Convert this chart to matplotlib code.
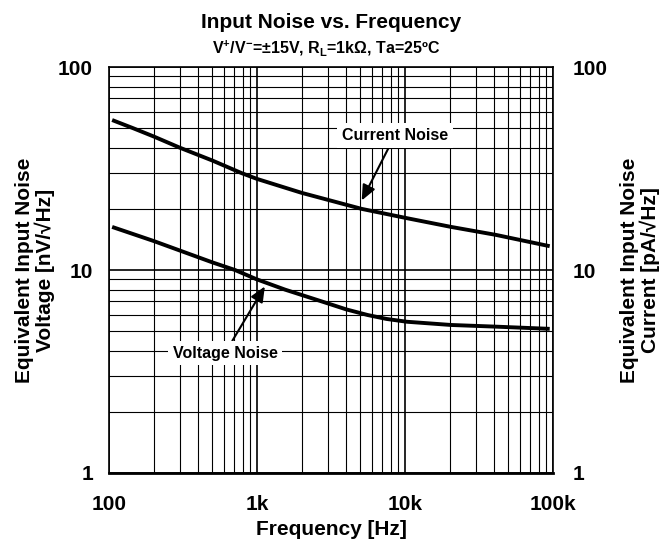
import matplotlib
matplotlib.use('Agg')
import matplotlib.pyplot as plt
from matplotlib.ticker import LogLocator, NullFormatter, FixedLocator

plt.rcParams['font.family'] = ['Liberation Sans', 'DejaVu Sans']
plt.rcParams['font.weight'] = 'bold'
plt.rcParams['mathtext.fontset'] = 'custom'
plt.rcParams['mathtext.rm'] = 'Liberation Sans:bold'
plt.rcParams['mathtext.it'] = 'Liberation Sans:bold'
plt.rcParams['mathtext.bf'] = 'Liberation Sans:bold'
plt.rcParams['mathtext.default'] = 'rm'

# values
current_freq = [105, 145, 200, 302, 500, 788, 1000, 2000, 5100, 10300, 20500, 41000, 95000]
current_noise = [54.8, 50.0, 45.5, 40.0, 34.6, 30.0, 28.1, 24.0, 20.0, 18.0, 16.3, 14.9, 13.1]
voltage_freq = [105, 200, 500, 710, 995, 1550, 2740, 4000, 5600, 7500, 10300, 20500, 41000, 95000]
voltage_noise = [16.3, 13.9, 10.9, 10.0, 9.0, 8.0, 7.0, 6.4, 6.0, 5.74, 5.56, 5.36, 5.26, 5.13]

x_ticks = [100, 1000, 10000, 100000]
x_labels = ['100', '1k', '10k', '100k']
y_ticks = [1, 10, 100]
y_labels = ['1', '10', '100']

fig = plt.figure(figsize=(6.59, 5.45), dpi=100)
fig.subplots_adjust(left=109/659, right=553/659, top=1-67/545, bottom=1-473/545)
ax = fig.add_subplot(111)

ax.plot(current_freq, current_noise, color='black', lw=2.8, solid_capstyle='butt', zorder=3)
ax.plot(voltage_freq, voltage_noise, color='black', lw=2.8, solid_capstyle='butt', zorder=3)

ax.set_xscale('log')
ax.set_yscale('log')
ax.set_xlim(100, 100000)
ax.set_ylim(1, 100)

ax.xaxis.set_major_locator(FixedLocator(x_ticks))
ax.set_xticklabels(x_labels)
ax.xaxis.set_minor_locator(LogLocator(base=10, subs=range(2, 10)))
ax.xaxis.set_minor_formatter(NullFormatter())
ax.yaxis.set_major_locator(FixedLocator(y_ticks))
ax.set_yticklabels(y_labels)
ax.yaxis.set_minor_locator(LogLocator(base=10, subs=range(2, 10)))
ax.yaxis.set_minor_formatter(NullFormatter())

ax.grid(True, which='major', color='black', lw=1.2)
ax.grid(True, which='minor', color='black', lw=0.8)
ax.set_axisbelow(True)
ax.tick_params(which='both', length=0)
ax.tick_params(axis='x', pad=16, labelsize=15)
ax.tick_params(axis='y', pad=11.5, labelsize=15)
for s in ax.spines.values():
    s.set_linewidth(1.2)
ax.spines['bottom'].set_linewidth(2)

ax.set_xlabel('Frequency [Hz]', fontsize=15, fontweight='bold')
ax.xaxis.set_label_coords(0.5, -0.115)
ax.set_ylabel('Equivalent Input Noise\nVoltage [nV/√Hz]', fontsize=15,
              fontweight='bold', linespacing=1.05)
ax.yaxis.set_label_coords(-0.122, 0.5)

ax2 = ax.twinx()
ax2.set_yscale('log')
ax2.set_ylim(1, 100)
ax2.yaxis.set_major_locator(FixedLocator(y_ticks))
ax2.set_yticklabels(y_labels)
ax2.yaxis.set_minor_formatter(NullFormatter())
ax2.tick_params(which='both', length=0)
ax2.tick_params(axis='y', pad=14, labelsize=15)
ax2.set_ylabel('Equivalent Input Noise\nCurrent [pA/√Hz]', fontsize=15,
               fontweight='bold', linespacing=1.05)
ax2.yaxis.set_label_coords(1.151, 0.5)
for s in ax2.spines.values():
    s.set_visible(False)

box = dict(boxstyle='square,pad=0.3', fc='white', ec='none')
arrow = dict(arrowstyle='-|>,head_length=0.8,head_width=0.35', color='black', lw=1.5,
             shrinkA=0, shrinkB=0)
ax.annotate('Current Noise', xy=(5100, 22.0), xytext=(8550, 46.0),
            fontsize=11.5, fontweight='bold', ha='center', va='center', bbox=box,
            arrowprops=arrow, zorder=4)
ax.annotate('Voltage Noise', xy=(1130, 8.3), xytext=(608, 3.9),
            fontsize=11.5, fontweight='bold', ha='center', va='center', bbox=box,
            arrowprops=arrow, zorder=4)

fig.text(331/659, 1-22/545, 'Input Noise vs. Frequency', ha='center', va='center',
         fontsize=15, fontweight='bold')
fig.text(326/659, 1-48/545, r'V$^{+}$/V$^{-}$=±15V, R$_{L}$=1kΩ, Ta=25ºC', ha='center',
         va='center', fontsize=11.5, fontweight='bold')

fig.savefig('out.png', dpi=100)
